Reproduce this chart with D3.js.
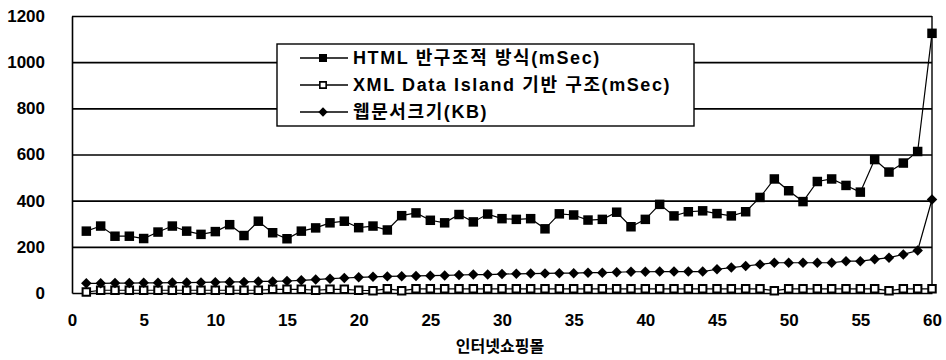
<!DOCTYPE html>
<html>
<head>
<meta charset="utf-8">
<script src="https://cdn.jsdelivr.net/npm/d3@7"></script>
<style>
  html, body { margin: 0; padding: 0; background: #fff; }
  svg { display: block; }
</style>
</head>
<body>
<div id="chart"></div>
<script>
  // ── Data ──────────────────────────────────────────────
  var seriesNames = [
    "HTML 반구조적 방식(mSec)",
    "XML Data Island 기반 구조(mSec)",
    "웹문서크기(KB)"
  ];

  var htmlMs = [
    268, 290, 246, 246, 236, 264, 290, 268, 254, 266,
    296, 249, 311, 261, 235, 268, 282, 304, 311, 283,
    290, 273, 335, 347, 315, 304, 340, 308, 342, 322,
    319, 322, 278, 343, 338, 316, 319, 350, 287, 319,
    384, 334, 352, 356, 344, 334, 352, 414, 494, 443,
    396, 483, 494, 466, 437, 578, 524, 563, 613, 1125
  ];

  var xmlMs = [
     4, 12, 12, 12, 12, 12, 12, 12, 12, 12,
    12, 12, 12, 16, 16, 16, 12, 16, 16, 12,
    10, 18, 10, 18, 18, 18, 18, 18, 18, 18,
    18, 18, 18, 18, 18, 18, 18, 18, 18, 18,
    18, 18, 18, 18, 18, 18, 18, 18, 10, 18,
    18, 18, 18, 18, 18, 18, 10, 18, 18, 18
  ];

  var pageKb = [
     42,  42,  43,  43,  44,  44,  45,  45,  46,  47,
     48,  48,  50,  50,  52,  55,  58,  62,  65,  68,
     70,  72,  73,  74,  75,  76,  78,  80,  80,  82,
     83,  84,  85,  86,  86,  88,  88,  90,  92,  92,
     93,  93,  93,  93, 103, 110, 117, 124, 131, 131,
    131, 131, 131, 138, 138, 146, 153, 167, 184, 405
  ];

  var xTicks = [0, 5, 10, 15, 20, 25, 30, 35, 40, 45, 50, 55, 60];
  var yTicks = [0, 200, 400, 600, 800, 1000, 1200];
  var xTitle = "인터넷쇼핑몰";

  // ── Layout ────────────────────────────────────────────
  var width = 946, height = 360;
  var margin = { top: 16, right: 14, bottom: 67, left: 72 };
  var innerW = width - margin.left - margin.right;
  var innerH = height - margin.top - margin.bottom;

  var svg = d3.select("#chart").append("svg")
    .attr("width", width)
    .attr("height", height);

  var g = svg.append("g")
    .attr("transform", "translate(" + margin.left + "," + margin.top + ")");

  var x = d3.scaleLinear().domain([0, 60]).range([0, innerW]);
  var y = d3.scaleLinear().domain([0, 1200]).range([innerH, 0]);

  var tickFont = "'Liberation Sans', Arial, sans-serif";
  var korFont = "'Liberation Sans', 'Noto Sans CJK KR', sans-serif";

  // grid lines (incl. top frame)
  g.append("g")
    .call(d3.axisLeft(y).tickValues(yTicks.slice(1)).tickSize(-innerW).tickFormat(""))
    .call(function (s) {
      s.select(".domain").remove();
      s.selectAll(".tick line").attr("stroke", "#000").attr("stroke-width", 1.6);
    });

  // right frame
  g.append("line")
    .attr("x1", innerW).attr("x2", innerW)
    .attr("y1", 0).attr("y2", innerH)
    .attr("stroke", "#000").attr("stroke-width", 1.4);

  // y axis
  var yAxis = g.append("g")
    .call(d3.axisLeft(y).tickValues(yTicks).tickSize(0).tickPadding(27).tickFormat(d3.format("d")));
  yAxis.select(".domain").attr("stroke", "#000").attr("stroke-width", 1.6);
  yAxis.selectAll("text")
    .attr("font-family", tickFont)
    .attr("font-weight", "bold")
    .attr("font-size", 17)
    .attr("fill", "#000");

  // x axis
  var xAxis = g.append("g")
    .attr("transform", "translate(0," + innerH + ")")
    .call(d3.axisBottom(x).tickValues(xTicks).tickSize(0).tickPadding(21));
  xAxis.select(".domain").attr("stroke", "#000").attr("stroke-width", 1.6);
  xAxis.selectAll("text")
    .attr("font-family", tickFont)
    .attr("font-weight", "bold")
    .attr("font-size", 17)
    .attr("fill", "#000");

  // x title
  svg.append("text")
    .attr("x", margin.left + innerW / 2 - 2)
    .attr("y", 352)
    .attr("text-anchor", "middle")
    .attr("font-family", "'Noto Sans CJK KR', sans-serif")
    .attr("font-weight", "bold")
    .attr("font-size", 16)
    .text(xTitle);

  // ── Series ────────────────────────────────────────────
  var line = d3.line()
    .x(function (d, i) { return x(i + 1); })
    .y(function (d) { return y(d); });

  function drawLine(values) {
    g.append("path")
      .datum(values)
      .attr("fill", "none")
      .attr("stroke", "#000")
      .attr("stroke-width", 1.2)
      .attr("d", line);
  }

  var sq = d3.symbol().type(d3.symbolSquare);
  var dia = d3.symbol().type(d3.symbolDiamond2);

  // open squares (XML)
  drawLine(xmlMs);
  g.append("g").selectAll("path")
    .data(xmlMs)
    .join("path")
    .attr("transform", function (d, i) { return "translate(" + x(i + 1) + "," + y(d) + ")"; })
    .attr("d", sq.size(56))
    .attr("fill", "#fff")
    .attr("stroke", "#000")
    .attr("stroke-width", 2);

  // diamonds (page size)
  drawLine(pageKb);
  g.append("g").selectAll("path")
    .data(pageKb)
    .join("path")
    .attr("transform", function (d, i) { return "translate(" + x(i + 1) + "," + y(d) + ")"; })
    .attr("d", dia.size(70))
    .attr("fill", "#000");

  // filled squares (HTML)
  drawLine(htmlMs);
  g.append("g").selectAll("path")
    .data(htmlMs)
    .join("path")
    .attr("transform", function (d, i) { return "translate(" + x(i + 1) + "," + y(d) + ")"; })
    .attr("d", sq.size(90))
    .attr("fill", "#000");

  // ── Legend ────────────────────────────────────────────
  var legend = svg.append("g").attr("transform", "translate(277,44)");
  legend.append("rect")
    .attr("width", 417).attr("height", 82)
    .attr("fill", "#fff")
    .attr("stroke", "#000")
    .attr("stroke-width", 1.4);

  var legendRows = [
    { name: seriesNames[0], kind: "filled" },
    { name: seriesNames[1], kind: "open" },
    { name: seriesNames[2], kind: "diamond" }
  ];

  legendRows.forEach(function (r, i) {
    var row = legend.append("g").attr("transform", "translate(0," + (14 + i * 27) + ")");
    row.append("line")
      .attr("x1", 23).attr("x2", 71)
      .attr("stroke", "#000").attr("stroke-width", 1.4);
    var m = row.append("path").attr("transform", "translate(46,0)");
    if (r.kind === "filled") m.attr("d", sq.size(64)).attr("fill", "#000");
    else if (r.kind === "open") m.attr("d", sq.size(40)).attr("fill", "#fff").attr("stroke", "#000").attr("stroke-width", 1.6);
    else m.attr("d", dia.size(56)).attr("fill", "#000");
    row.append("text")
      .attr("x", 76)
      .attr("dy", "0.36em")
      .attr("font-family", korFont)
      .attr("font-weight", "bold")
      .attr("font-size", 18)
      .attr("letter-spacing", 1.6)
      .text(r.name);
  });
</script>
</body>
</html>
